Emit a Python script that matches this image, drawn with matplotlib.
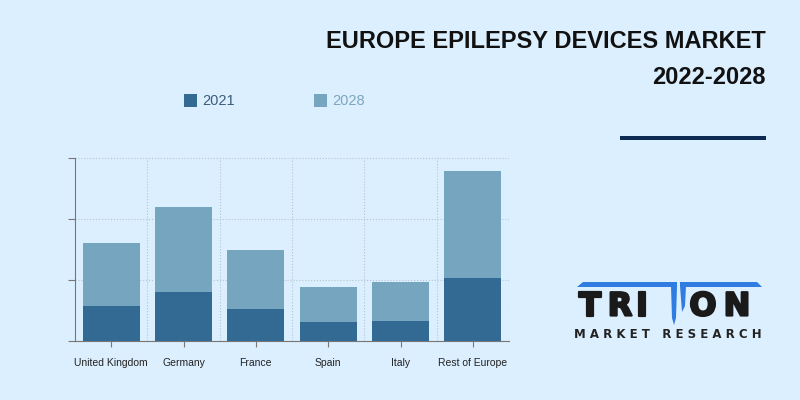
import matplotlib.pyplot as plt
import matplotlib.patheffects as pe
from matplotlib.patches import Polygon, Rectangle
import numpy as np

# values (arbitrary units, axis has no labels)
regions = ["United Kingdom", "Germany", "France", "Spain", "Italy", "Rest of Europe"]
val_2021 = [0.58, 0.80, 0.53, 0.31, 0.33, 1.03]
val_2028 = [1.60, 2.20, 1.49, 0.88, 0.96, 2.78]
series = ["2021", "2028"]

bg = "#dcefff"
c2021 = "#336a93"
c2028 = "#76a6bf"

fig = plt.figure(figsize=(8, 4), dpi=100, facecolor=bg)
ax = fig.add_axes([75/800, 59/400, 434/800, 183/400])
ax.set_facecolor(bg)

x = np.arange(len(regions))
ax.bar(x, val_2028, width=0.79, color=c2028, zorder=2)
ax.bar(x, val_2021, width=0.79, color=c2021, zorder=3)

ax.set_xlim(-0.5, len(regions) - 0.5)
ax.set_ylim(0, 3)
ax.set_yticks([0, 1, 2, 3])
ax.set_yticklabels([])
ax.set_xticks(x)
ax.set_xticklabels(regions, fontsize=7.5, family="Liberation Sans", color="#222222")
ax.set_xticks(np.arange(len(regions)) + 0.5, minor=True)
ax.tick_params(axis="x", which="minor", length=0)
ax.tick_params(axis="x", which="major", length=4, color="#777777", pad=8)
ax.tick_params(axis="y", length=5, color="#777777")
ax.grid(axis="y", which="major", color="#b5c4d2", linestyle=":", linewidth=0.8, zorder=0)
ax.grid(axis="x", which="minor", color="#b5c4d2", linestyle=":", linewidth=0.8, zorder=0)
for s in ["top", "right"]:
    ax.spines[s].set_visible(False)
for s in ["left", "bottom"]:
    ax.spines[s].set_color("#777777")
    ax.spines[s].set_linewidth(0.8)


def px(xp, yp):
    # pixel position (from top-left) -> figure fraction
    return xp / 800, 1 - yp / 400


# legend drawn by hand to keep the wide spacing
for xs, col, txtc, lab in [(184, c2021, "#3b5d7c", series[0]), (314, c2028, "#7ea6bd", series[1])]:
    fig.patches.append(Rectangle(px(xs, 107), 13/800, 13/400, transform=fig.transFigure,
                                 facecolor=col, edgecolor="none"))
    fig.text(*px(xs + 18, 101), lab, fontsize=10.5, family="Liberation Sans",
             color=txtc, va="center", ha="left")

# title
title_kw = dict(fontsize=17, weight="bold", family="Liberation Sans",
                color="#111111", ha="right", va="center")
fig.text(*px(766, 41), "EUROPE EPILEPSY DEVICES MARKET", **title_kw)
fig.text(*px(766, 78), "2022-2028", **title_kw)
fig.patches.append(Rectangle(px(620, 140), 146/800, 4/400, transform=fig.transFigure,
                             facecolor="#0d2b52", edgecolor="none"))

# logo
blue = "#2f7de1"
left_bar = [px(583, 282), px(677, 282), px(677, 287), px(577, 287)]
left_stem = [px(671, 286), px(677, 286), px(676, 318), px(674, 325), px(672, 318)]
right_bar = [px(680, 282), px(757, 282), px(762, 287), px(680, 287)]
right_stem = [px(680, 286), px(686, 286), px(685, 306), px(682, 312)]
for pts in [left_bar, left_stem, right_bar, right_stem]:
    fig.patches.append(Polygon(pts, closed=True, transform=fig.transFigure,
                               facecolor=blue, edgecolor="none"))
logo_kw = dict(fontsize=23, weight="bold", family="DejaVu Sans", color="#1a1a1a",
               va="center", ha="center",
               path_effects=[pe.withStroke(linewidth=1.6, foreground="#1a1a1a")])
for ch, xc in [("T", 590), ("R", 620), ("I", 642), ("O", 703), ("N", 737)]:
    fig.text(*px(xc, 307), ch, **logo_kw)
fig.text(*px(668, 334), "M A R K E T   R E S E A R C H", fontsize=8.5, weight="bold",
         family="DejaVu Sans", color="#222222", ha="center", va="center")

fig.savefig("out.png", dpi=100, facecolor=bg)
